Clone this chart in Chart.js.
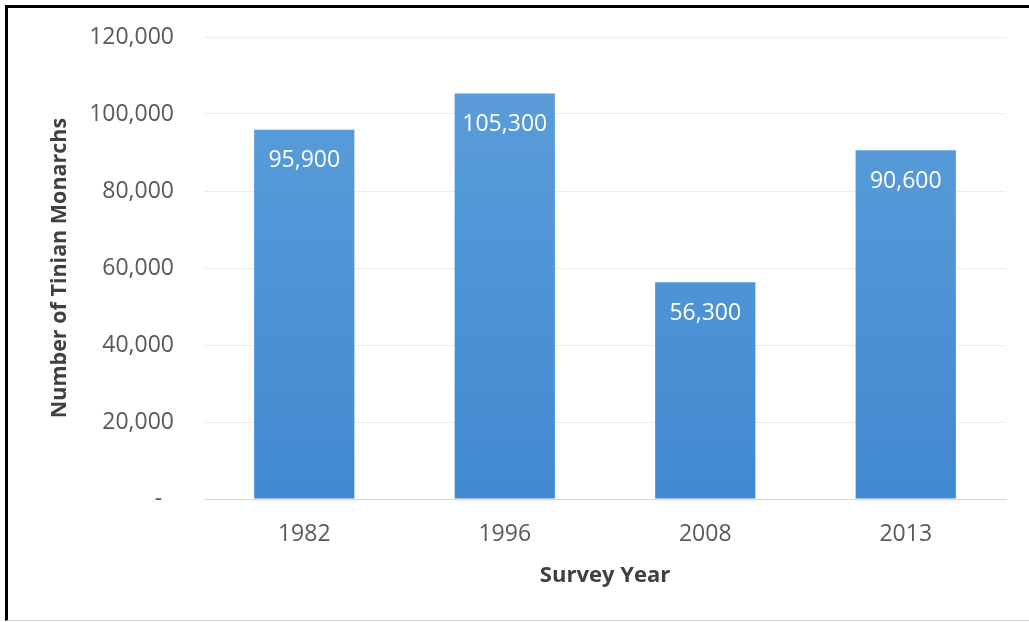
<!DOCTYPE html>
<html>
<head>
<meta charset="utf-8">
<script src="https://cdn.jsdelivr.net/npm/chart.js@4"></script>
<style>
  html, body { margin: 0; padding: 0; background: #fff; }
  #wrap { position: relative; width: 1029px; height: 622px; overflow: hidden; }
  #frame {
    position: absolute; left: 5px; top: 5px; right: 0; bottom: 1px;
    border-top: 3px solid #000; border-left: 3px solid #000;
    border-bottom: 1px solid #d8d8d8;
    pointer-events: none;
  }
  canvas { position: absolute; left: 0; top: 0; }
</style>
</head>
<body>
<div id="wrap">
  <canvas id="monarchChart" width="1029" height="622"></canvas>
  <div id="frame"></div>
</div>
<script>
// survey data
const years = ['1982', '1996', '2008', '2013'];
const monarchs = [95900, 105300, 56300, 90600];
const yTicks = [0, 20000, 40000, 60000, 80000, 100000, 120000];

const fontFam = '"Open Sans", "Noto Sans", sans-serif';

// white value labels inside the top of each bar
const barLabels = {
    id: 'barLabels',
    afterDatasetsDraw(chart) {
        const ctx = chart.ctx;
        const meta = chart.getDatasetMeta(0);
        ctx.save();
        ctx.fillStyle = '#ffffff';
        ctx.font = '23px ' + fontFam;
        ctx.textAlign = 'center';
        ctx.textBaseline = 'middle';
        meta.data.forEach((bar, i) => {
            ctx.fillText(monarchs[i].toLocaleString('en-US'), bar.x, bar.y + 31);
        });
        ctx.restore();
    }
};

const ctx = document.getElementById('monarchChart').getContext('2d');
new Chart(ctx, {
    type: 'bar',
    data: {
        labels: years,
        datasets: [{
            data: monarchs,
            backgroundColor: function (c) {
                const area = c.chart.chartArea;
                if (!area) return '#4a90d6';
                const g = c.chart.ctx.createLinearGradient(0, area.top, 0, area.bottom);
                g.addColorStop(0, '#5e9fdc');
                g.addColorStop(1, '#4189d0');
                return g;
            },
            borderWidth: 0,
            barPercentage: 1,
            categoryPercentage: 0.5
        }]
    },
    options: {
        responsive: false,
        animation: false,
        layout: { padding: { left: 0, right: 23, top: 37, bottom: 0 } },
        plugins: {
            legend: { display: false },
            tooltip: { enabled: false }
        },
        scales: {
            x: {
                grid: { display: false, drawTicks: false },
                border: { display: true, color: '#d9d9d9', width: 1 },
                ticks: {
                    color: '#595959',
                    font: { family: fontFam, size: 23 },
                    padding: 22
                },
                title: {
                    display: true,
                    text: 'Survey Year',
                    color: '#404040',
                    font: { family: fontFam, size: 22, weight: 'bold' },
                    padding: { top: 0, bottom: 33 }
                },
                afterFit(scale) { scale.height = 123; }
            },
            y: {
                min: 0,
                max: 120000,
                afterBuildTicks(scale) {
                    scale.ticks = yTicks.map(v => ({ value: v }));
                },
                grid: { color: '#ececec', drawTicks: false },
                border: { display: false },
                ticks: {
                    color: '#595959',
                    font: { family: fontFam, size: 23 },
                    padding: 30,
                    callback: v => v === 0 ? '-  ' : v.toLocaleString('en-US')
                },
                title: {
                    display: true,
                    text: 'Number of Tinian Monarchs',
                    color: '#404040',
                    font: { family: fontFam, size: 21.5, weight: 'bold' },
                    padding: { top: 47, bottom: 0 }
                },
                afterFit(scale) {
                    scale.width = 204;
                    scale.paddingTop = 0;
                    scale.paddingBottom = 0;
                }
            }
        }
    },
    plugins: [barLabels]
});
</script>
</body>
</html>
